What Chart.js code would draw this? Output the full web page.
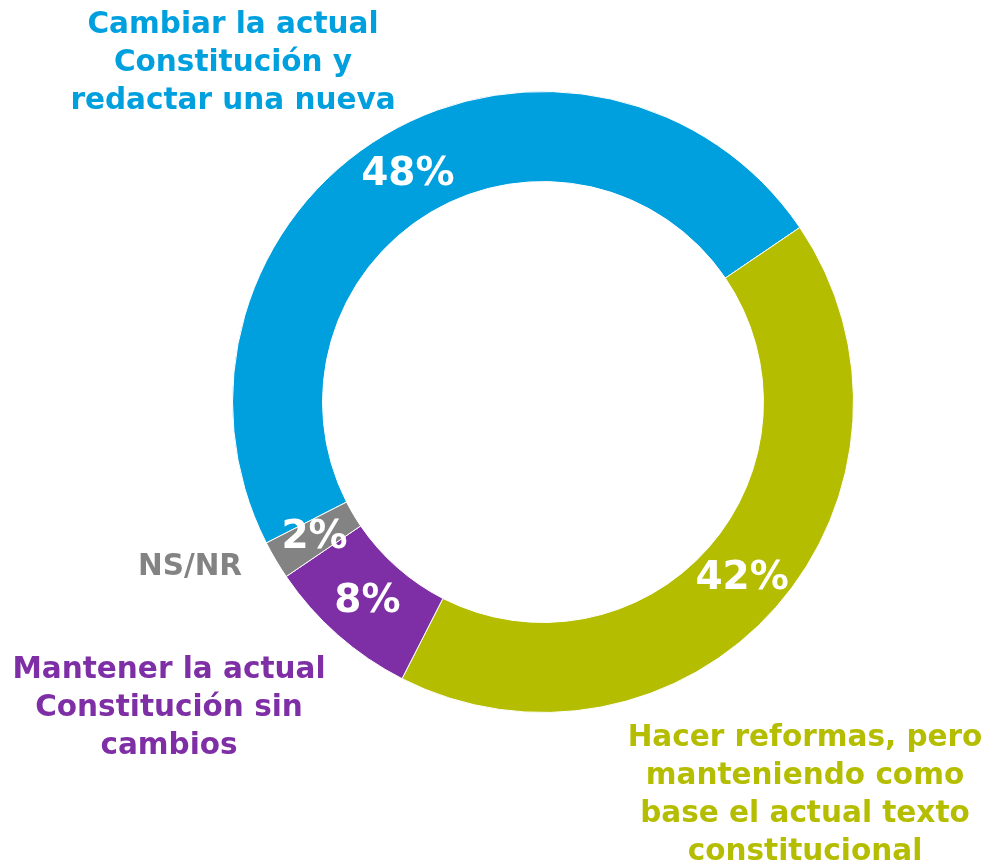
<!DOCTYPE html>
<html>
<head>
<meta charset="utf-8">
<script src="https://cdn.jsdelivr.net/npm/chart.js@4"></script>
<style>
  html, body { margin: 0; padding: 0; background: #fff; }
  #wrap { width: 989px; height: 865px; }
</style>
</head>
<body>
<div id="wrap"><canvas id="chart"></canvas></div>
<script>
const categories = [
  ['Cambiar la actual', 'Constitución y', 'redactar una nueva'],
  ['Hacer reformas, pero', 'manteniendo como', 'base el actual texto', 'constitucional'],
  ['Mantener la actual', 'Constitución sin', 'cambios'],
  ['NS/NR']
];
const values = [48, 42, 8, 2];
const valueLabels = ['48%', '42%', '8%', '2%'];
const colors = ['#00A0DF', '#B4BD00', '#7F2FA6', '#838383'];

// where each category label sits (centre x, first baseline y)
const labelSpots = [
  { x: 233, y: 33 },
  { x: 805, y: 746 },
  { x: 169, y: 678 },
  { x: 190, y: 575 }
];

const FONT = '"DejaVu Sans", sans-serif';

const labelsPlugin = {
  id: 'labels',
  afterDatasetsDraw(chart) {
    const ctx = chart.ctx;
    const meta = chart.getDatasetMeta(0);
    ctx.save();
    ctx.textAlign = 'center';
    ctx.textBaseline = 'middle';
    ctx.fillStyle = '#fff';
    ctx.font = 'bold 39px ' + FONT;
    meta.data.forEach((arc, i) => {
      const p = arc.tooltipPosition();
      ctx.fillText(valueLabels[i], p.x, p.y + 1);
    });
    ctx.textBaseline = 'alphabetic';
    ctx.font = 'bold 29.5px ' + FONT;
    categories.forEach((lines, i) => {
      ctx.fillStyle = colors[i];
      lines.forEach((ln, j) => {
        ctx.fillText(ln, labelSpots[i].x, labelSpots[i].y + j * 38);
      });
    });
    ctx.restore();
  }
};

const ctx = document.querySelector('#chart').getContext('2d');
const chart = new Chart(ctx, {
  type: 'doughnut',
  data: {
    labels: categories.map(c => c.join(' ')),
    datasets: [{
      data: values,
      backgroundColor: colors,
      borderColor: '#ffffff',
      borderWidth: 1
    }]
  },
  options: {
    responsive: true,
    maintainAspectRatio: false,
    animation: false,
    cutout: '71%',
    rotation: -117,
    layout: { padding: { left: 232, right: 135, top: 91, bottom: 152 } },
    plugins: {
      legend: { display: false },
      tooltip: { enabled: false }
    }
  },
  plugins: [labelsPlugin]
});
</script>
</body>
</html>
